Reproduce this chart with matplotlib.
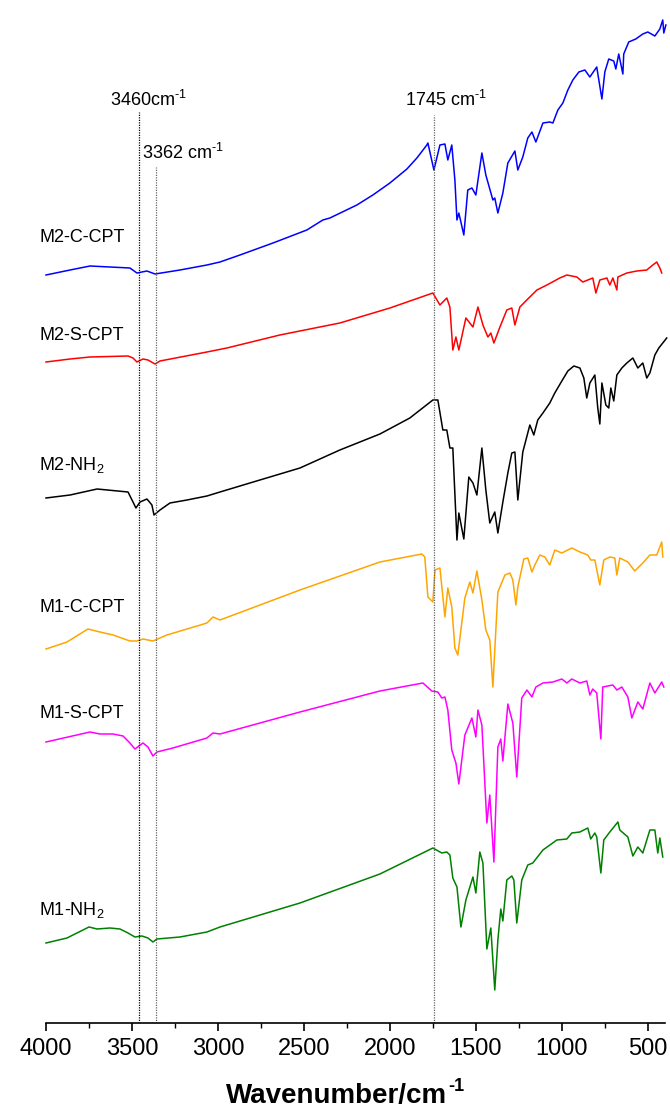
import matplotlib
matplotlib.use("Agg")
import matplotlib.pyplot as plt
from matplotlib.ticker import MultipleLocator

plt.rcParams['font.family'] = ['Liberation Sans', 'DejaVu Sans']
plt.rcParams['mathtext.fontset'] = 'custom'
plt.rcParams['mathtext.rm'] = 'Liberation Sans'
plt.rcParams['mathtext.it'] = 'Liberation Sans:italic'
plt.rcParams['mathtext.bf'] = 'Liberation Sans:bold'

# ---------------- data (wavenumber cm-1, stacked transmittance a.u.) ----------------
m2c_wn = [4000, 3860, 3744, 3628, 3512, 3471, 3413, 3366, 3221, 3064, 2988, 2872, 2680, 2483, 2390,
          2349, 2192, 2099, 2000, 1901, 1843, 1785, 1779, 1744, 1709, 1680, 1663, 1640, 1622, 1610,
          1599, 1570, 1547, 1523, 1500, 1465, 1442, 1401, 1390, 1372, 1343, 1314, 1273, 1256, 1227,
          1198, 1174, 1151, 1110, 1070, 1052, 1023, 994, 965, 936, 901, 866, 837, 797, 767, 750, 727,
          698, 686, 669, 645, 640, 611, 570, 529, 500, 459, 430, 413, 407, 395]
m2c_t = [748, 753, 757, 756, 755, 750, 752, 749, 753, 758, 761, 768, 780, 793, 803,
         805, 818, 828, 840, 854, 865, 878, 880, 853, 878, 879, 863, 878, 843, 803,
         810, 788, 833, 835, 828, 870, 848, 823, 825, 810, 830, 860, 872, 853, 866,
         885, 891, 881, 900, 901, 900, 913, 920, 933, 943, 951, 953, 946, 956, 924, 951, 964,
         962, 954, 969, 949, 969, 981, 984, 989, 991, 987, 994, 1003, 990, 998]

m2s_wn = [4000, 3860, 3744, 3523, 3494, 3471, 3436, 3407, 3366, 3337, 3064, 2948, 2640, 2291, 2000,
          1750, 1709, 1669, 1651, 1634, 1616, 1599, 1558, 1517, 1488, 1459, 1430, 1413, 1395, 1360,
          1320, 1291, 1273, 1244, 1198, 1145, 1087, 1012, 971, 913, 878, 820, 802, 779, 738, 721,
          703, 680, 674, 622, 564, 506, 471, 448, 430, 419]
m2s_t = [661, 664, 666, 667, 665, 661, 664, 663, 659, 662, 671, 675, 688, 700, 715,
         730, 718, 725, 716, 673, 686, 673, 705, 696, 716, 698, 686, 690, 680, 696,
         713, 715, 698, 716, 724, 733, 738, 745, 748, 746, 741, 745, 730, 743, 745, 738,
         745, 733, 746, 750, 752, 753, 758, 761, 755, 750]

m2n_wn = [4000, 3860, 3703, 3523, 3494, 3477, 3453, 3413, 3384, 3372, 3337, 3279, 3180, 3064, 2988,
          2756, 2523, 2291, 2058, 1884, 1750, 1721, 1692, 1669, 1651, 1634, 1610, 1599, 1570, 1541,
          1517, 1494, 1465, 1442, 1419, 1390, 1372, 1343, 1314, 1291, 1273, 1256, 1227, 1186, 1163,
          1140, 1110, 1070, 1041, 1000, 965, 930, 895, 872, 855, 837, 808, 791, 779, 767, 744, 727,
          715, 698, 680, 651, 622, 587, 558, 529, 506, 488, 459, 436, 413, 390]
m2n_t = [525, 528, 534, 531, 521, 515, 521, 524, 518, 508, 513, 520, 523, 527, 531,
         543, 555, 573, 589, 605, 623, 623, 593, 593, 575, 575, 483, 510, 484, 546,
         540, 528, 575, 533, 500, 511, 490, 521, 550, 570, 571, 523, 571, 598, 588,
         603, 610, 620, 630, 642, 652, 657, 655, 645, 625, 640, 648, 615, 599, 640, 618, 615,
         635, 622, 648, 655, 660, 665, 655, 660, 645, 650, 668, 675, 680, 685]

m1c_wn = [4000, 3878, 3756, 3686, 3610, 3512, 3471, 3436, 3378, 3297, 3180, 3064, 3029, 2988, 2523,
          2058, 1814, 1797, 1779, 1750, 1738, 1709, 1680, 1663, 1640, 1622, 1605, 1564, 1535, 1517,
          1494, 1465, 1442, 1419, 1401, 1390, 1372, 1331, 1302, 1285, 1267, 1256, 1221, 1198, 1174,
          1157, 1128, 1099, 1070, 1041, 1000, 942, 895, 849, 832, 808, 779, 756, 721, 692, 680, 663,
          616, 576, 529, 488, 448, 419, 413]
m1c_t = [374, 381, 394, 391, 388, 382, 382, 384, 382, 388, 394, 400, 406, 403, 433,
         461, 469, 466, 426, 421, 453, 455, 406, 435, 416, 375, 368, 425, 441, 430,
         452, 423, 393, 383, 336, 373, 431, 448, 450, 443, 418, 436, 464, 465, 451,
         458, 468, 466, 458, 473, 470, 475, 471, 468, 463, 463, 438, 463, 466, 465, 448, 465,
         461, 452, 460, 468, 468, 481, 466]

m1s_wn = [4000, 3744, 3686, 3610, 3552, 3512, 3483, 3436, 3407, 3378, 3355, 3262, 3163, 3064, 3029,
          2988, 2523, 2058, 1808, 1756, 1721, 1698, 1680, 1663, 1640, 1616, 1599, 1564, 1523, 1500,
          1488, 1465, 1436, 1419, 1395, 1372, 1355, 1343, 1314, 1285, 1262, 1233, 1203, 1174, 1151,
          1110, 1052, 1000, 971, 942, 895, 855, 837, 820, 797, 773, 762, 703, 680, 651, 616, 593,
          558, 529, 488, 459, 419, 407]
m1s_t = [281, 291, 289, 289, 287, 280, 274, 280, 276, 267, 271, 275, 280, 285, 290,
         289, 311, 332, 340, 332, 331, 325, 326, 313, 273, 260, 239, 288, 305, 286,
         313, 298, 200, 228, 161, 276, 284, 262, 319, 300, 246, 325, 333, 326, 336,
         340, 341, 344, 340, 344, 340, 342, 328, 334, 330, 284, 336, 338, 333, 336, 326, 305,
         321, 314, 340, 330, 341, 336]

m1n_wn = [4000, 3878, 3750, 3703, 3628, 3570, 3523, 3483, 3442, 3407, 3378, 3355, 3221, 3064, 2988,
          2523, 2058, 1750, 1698, 1669, 1651, 1634, 1610, 1587, 1558, 1517, 1500, 1477, 1459, 1436,
          1413, 1390, 1372, 1355, 1343, 1320, 1291, 1279, 1262, 1233, 1198, 1169, 1110, 1029, 971,
          942, 895, 849, 832, 808, 797, 773, 756, 721, 674, 663, 616, 587, 558, 529, 488, 459, 442,
          430, 413]
m1n_t = [80, 85, 96, 94, 95, 94, 90, 86, 87, 85, 81, 84, 86, 91, 96,
         120, 149, 175, 170, 171, 168, 145, 136, 96, 123, 146, 130, 171, 160, 74,
         95, 33, 83, 114, 102, 143, 147, 143, 100, 143, 158, 160, 173, 183, 184,
         190, 191, 195, 184, 190, 186, 150, 183, 191, 201, 193, 186, 167, 176, 170, 193, 193, 170,
         185, 166]

series = [
    (m2c_wn, m2c_t, '#0000FF', 'M2-C-CPT', 786),
    (m2s_wn, m2s_t, '#FF0000', 'M2-S-CPT', 688),
    (m2n_wn, m2n_t, '#000000', 'M2-NH$_2$', 558),
    (m1c_wn, m1c_t, '#FFA500', 'M1-C-CPT', 416),
    (m1s_wn, m1s_t, '#FF00FF', 'M1-S-CPT', 310),
    (m1n_wn, m1n_t, '#008000', 'M1-NH$_2$', 113),
]
label_wn = 4040

marker_wn = [3460, 3362, 1745]
marker_top = [911, 856, 908]
marker_col = ['#000000', '#666666', '#666666']
marker_txt = ['3460cm$^{\\text{-1}}$', '3362 cm$^{\\text{-1}}$', '1745 cm$^{\\text{-1}}$']
marker_txt_pos = [(3628, 923), (3442, 870), (1913, 923)]

# ---------------- figure ----------------
fig = plt.figure(figsize=(6.7, 11.18), dpi=100)
ax = fig.add_axes([46 / 670, 1 - 1023 / 1118, (665 - 46) / 670, 1023 / 1118])

for wn, t, col, lab, ly in series:
    ax.plot(wn, t, color=col, lw=1.1, clip_on=False)
    ax.text(label_wn, ly, lab, fontsize=13, ha='left', va='center')

for x, top, c in zip(marker_wn, marker_top, marker_col):
    ax.vlines(x, 0, top, colors=c, linestyles=(0, (1, 1)), lw=0.9)
for txt, (x, y) in zip(marker_txt, marker_txt_pos):
    ax.text(x, y, txt, fontsize=13, ha='left', va='center')

ax.set_xlim(4000, 400)
ax.set_ylim(0, 1023)
for s in ['left', 'right', 'top']:
    ax.spines[s].set_visible(False)
ax.spines['bottom'].set_linewidth(1.2)
ax.set_yticks([])
ax.xaxis.set_major_locator(MultipleLocator(500))
ax.xaxis.set_minor_locator(MultipleLocator(250))
ax.set_xticks(range(4000, 499, -500))
ax.tick_params(axis='x', which='major', direction='out', length=6, width=1.2, labelsize=17, pad=5)
ax.tick_params(axis='x', which='minor', direction='out', length=3.5, width=1.0)
ax.patch.set_alpha(0)

# x-axis title with a bold hyphen superscript
xl = fig.text(226 / 670, 1 - 1103 / 1118, 'Wavenumber/cm', fontsize=20, fontweight='bold',
              ha='left', va='baseline')
fig.canvas.draw()
bb = xl.get_window_extent()
W, H = fig.bbox.width, fig.bbox.height
base_px = (1 - 1103 / 1118) * H
fig.text((bb.x1 + 1) / W, (base_px + 12) / H, '-1', fontsize=13, fontweight='bold',
         ha='left', va='baseline')

fig.savefig('out.png', dpi=100)
